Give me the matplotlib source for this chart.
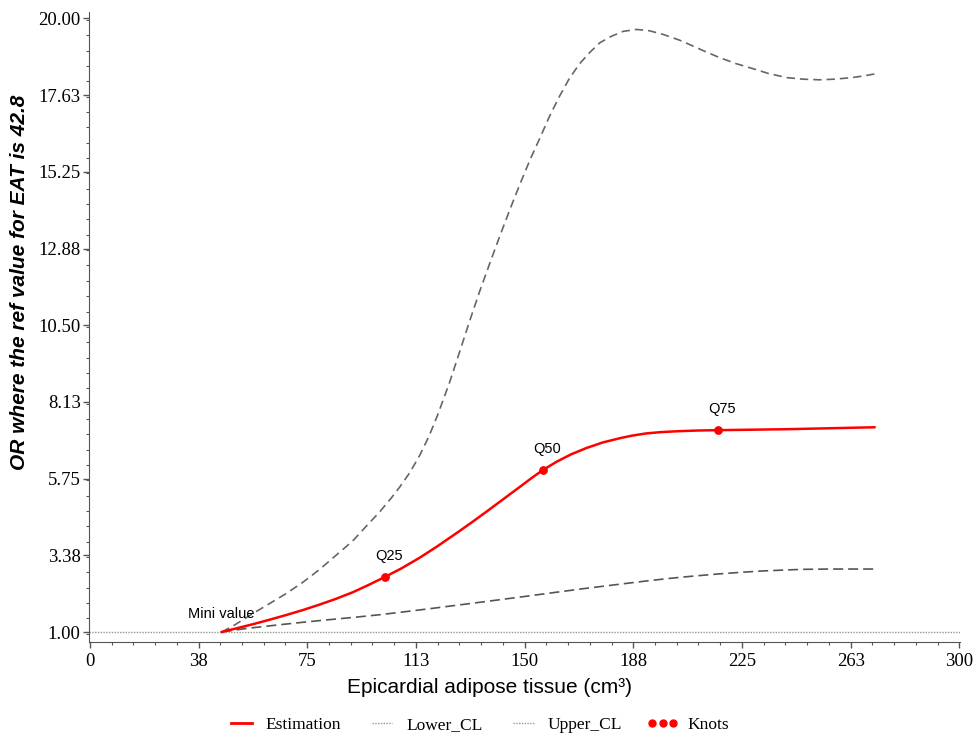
import matplotlib
matplotlib.use("Agg")
import matplotlib.pyplot as plt
from matplotlib.lines import Line2D
from matplotlib.ticker import MultipleLocator

# values
est_x = [45.5, 50, 56.2, 62, 67.9, 73.5, 79.3, 85, 90.7, 96, 101.7, 107.5,
         113.8, 120, 127.6, 132, 136.9, 142, 148.3, 152, 156.2, 161, 166,
         171.4, 177, 182.8, 187, 192, 197, 203.4, 210, 216.6, 240.3, 270.7]
est_y = [1.00, 1.10, 1.24, 1.38, 1.53, 1.68, 1.85, 2.03, 2.23, 2.45, 2.70, 2.97,
         3.30, 3.66, 4.13, 4.41, 4.73, 5.07, 5.49, 5.74, 6.01, 6.27, 6.50,
         6.70, 6.87, 7.00, 7.08, 7.15, 7.19, 7.22, 7.24, 7.25, 7.28, 7.34]

upper_x = [45.5, 50, 56.2, 62, 67.9, 73.5, 79.3, 85, 90.7, 95, 100, 104, 107,
           110.5, 113.8, 117, 120, 124, 127.6, 131, 134.5, 138, 141.4, 145,
           148.3, 152, 155.2, 158.5, 162.1, 165.5, 169, 172.5, 176, 180, 184,
           188.6, 193, 198, 203.4, 208, 213, 217.2, 223, 228.6, 234, 240.3,
           246, 251.7, 257, 263.1, 267, 270.7]
upper_y = [1.00, 1.22, 1.57, 1.88, 2.20, 2.54, 2.94, 3.38, 3.82, 4.24, 4.72,
           5.15, 5.50, 5.95, 6.47, 7.06, 7.72, 8.70, 9.68, 10.62, 11.55, 12.42,
           13.25, 14.1, 14.85, 15.65, 16.28, 16.95, 17.6, 18.15, 18.6, 18.95, 19.25,
           19.45, 19.6, 19.66, 19.62, 19.5, 19.33, 19.15, 18.95, 18.79, 18.6,
           18.45, 18.3, 18.17, 18.12, 18.10, 18.12, 18.17, 18.22, 18.28]

lower_x = [45.5, 50, 54, 60, 66, 73.4, 80, 90.7, 100, 108, 118, 127.6, 138,
           148.3, 160, 171, 182.8, 192, 200, 208, 217.2, 225, 232, 240, 245.9,
           255, 263, 270.7]
lower_y = [1.00, 1.06, 1.11, 1.17, 1.23, 1.30, 1.36, 1.45, 1.535, 1.62, 1.73,
           1.84, 1.96, 2.08, 2.22, 2.35, 2.48, 2.58, 2.66, 2.73, 2.80, 2.85,
           2.89, 2.92, 2.94, 2.95, 2.95, 2.95]

knot_x = [101.7, 156.2, 216.6]
knot_y = [2.70, 6.01, 7.25]
knot_names = ["Q25", "Q50", "Q75"]

xticks = [0, 37.5, 75, 112.5, 150, 187.5, 225, 262.5, 300]
xtick_labels = ["0", "38", "75", "113", "150", "188", "225", "263", "300"]
yticks = [1, 3.375, 5.75, 8.125, 10.5, 12.875, 15.25, 17.625, 20]
ytick_labels = ["1.00", "3.38", "5.75", "8.13", "10.50", "12.88", "15.25", "17.63", "20.00"]

fig = plt.figure(figsize=(9.8, 7.36), dpi=100)
ax = fig.add_axes([0.0908, 0.1277, 0.889, 0.856])

ax.axhline(1, color="#8a9e8a", lw=1.0, ls=(0, (1, 1)), zorder=1)
ax.plot(upper_x, upper_y, color="#666666", lw=1.2, ls=(0, (5, 3)), zorder=2)
ax.plot(lower_x, lower_y, color="#555555", lw=1.2, ls=(0, (6, 3)), zorder=2)
ax.plot(est_x, est_y, color="#ff0000", lw=1.8, zorder=3)
ax.scatter(knot_x, knot_y, color="#ff0000", s=28, zorder=4)

sans = "Liberation Sans"
for kx, ky, name in zip(knot_x, knot_y, knot_names):
    ax.text(kx + 1.5, ky + 0.45, name, ha="center", va="bottom", fontsize=10.5, family=sans)
ax.text(est_x[0], est_y[0] + 0.33, "Mini value", ha="center", va="bottom",
        fontsize=10.5, family=sans)

ax.set_xlim(-0.3, 300.3)
ax.set_ylim(0.69, 20.2)
ax.set_xticks(xticks)
ax.set_xticklabels(xtick_labels)
ax.set_yticks(yticks)
ax.set_yticklabels(ytick_labels)
ax.xaxis.set_minor_locator(MultipleLocator(7.5))
ax.yaxis.set_minor_locator(MultipleLocator(0.475))
ax.tick_params(which="major", length=4, width=1, color="#555555", pad=2,
               labelsize=13.5, labelcolor="black", direction="out")
ax.tick_params(which="minor", length=2.5, width=0.8, color="#555555", direction="out")
ax.tick_params(axis="x", which="major", pad=4)
for lab in ax.get_xticklabels() + ax.get_yticklabels():
    lab.set_family("Liberation Serif")

for side in ["top", "right"]:
    ax.spines[side].set_visible(False)
for side in ["left", "bottom"]:
    ax.spines[side].set_color("#555555")

ax.set_xlabel("Epicardial adipose tissue (cm³)", fontsize=15, family=sans)
ax.xaxis.set_label_coords(0.46, -0.057)
ax.set_ylabel("OR where the ref value for EAT is 42.8", fontsize=15,
              family=sans, fontweight="bold", fontstyle="italic")
ax.yaxis.set_label_coords(-0.069, 0.571)

handles = [
    Line2D([], [], color="#ff0000", lw=2),
    Line2D([], [], color="#8a9e8a", lw=1, ls=(0, (1, 1))),
    Line2D([], [], color="#8a9e8a", lw=1, ls=(0, (1, 1))),
    Line2D([0, 1, 2], [0, 0, 0], color="#ff0000", ls="none", marker="o", markersize=5),
]
leg = fig.legend(handles, ["Estimation", "Lower_CL", "Upper_CL", "Knots"],
                 loc="center", bbox_to_anchor=(0.487, 0.015), ncol=4, frameon=False,
                 prop={"family": "Liberation Serif", "size": 12.5}, numpoints=3,
                 handlelength=1.8, columnspacing=1.45, handletextpad=0.5)

fig.savefig("out.png", dpi=100)
